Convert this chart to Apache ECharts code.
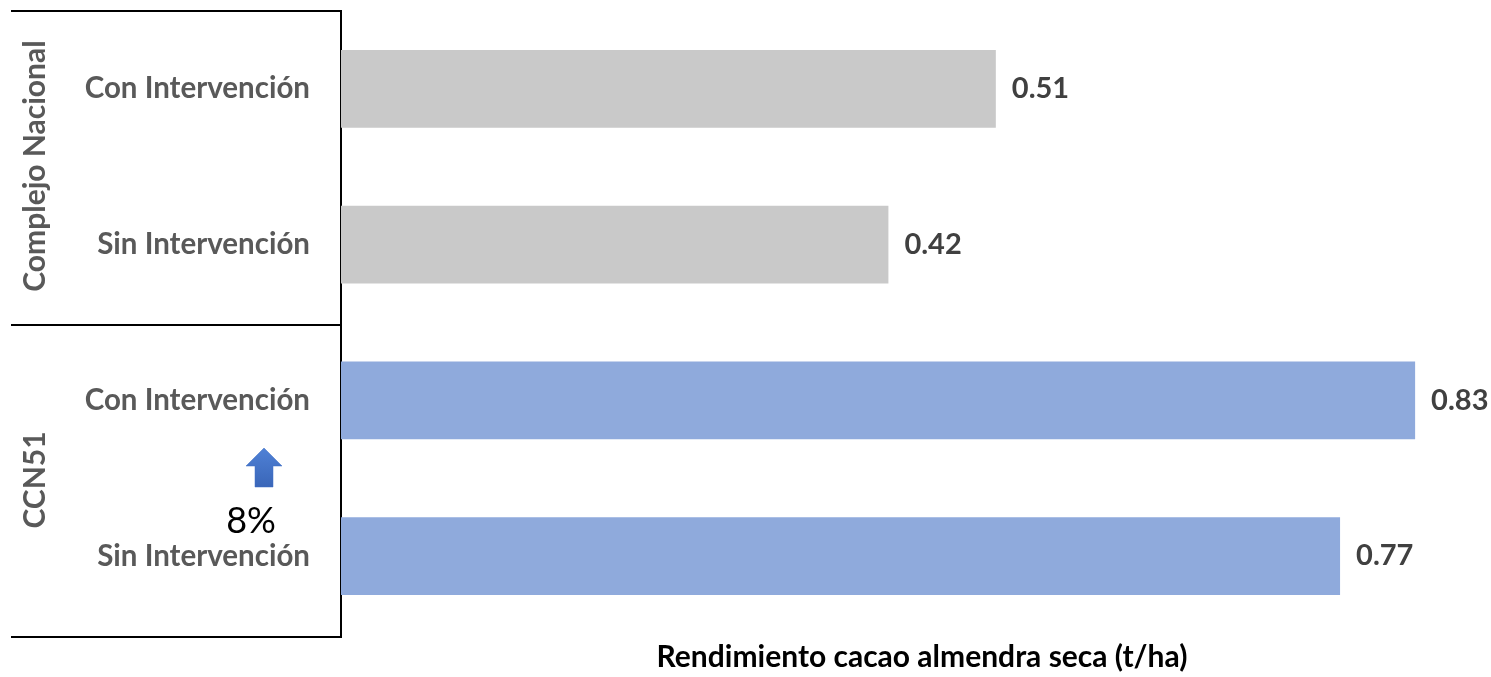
<!DOCTYPE html>
<html><head><meta charset="utf-8">
<script src="https://cdn.jsdelivr.net/npm/echarts@6/dist/echarts.min.js"></script>
<style>html,body{margin:0;padding:0;background:#fff}#c{width:1491px;height:677px}</style>
</head><body><div id="c"></div>
<script>
const categoryIds = ["CN-Con", "CN-Sin", "CCN51-Con", "CCN51-Sin"];
const tickLabels = ["Con Intervención", "Sin Intervención", "Con Intervención", "Sin Intervención"];
const groupNames = ["Complejo Nacional", "CCN51"];
const values = [0.506, 0.423, 0.83, 0.772];
const axisTitle = "Rendimiento cacao almendra seca (t/ha)";
const increaseText = "8%";

const FONT = "Lato, 'Open Sans', sans-serif";
const chart = echarts.init(document.getElementById('c'));
const grpColors = ['#c9c9c9', '#8faadc'];
chart.setOption({
  animation: false,
  grid: { left: 341, right: 50, top: 11, bottom: 40 },
  xAxis: {
    type: 'value', min: 0, max: 0.85,
    axisLine: { show: false }, axisTick: { show: false }, axisLabel: { show: false }, splitLine: { show: false },
    name: axisTitle, nameLocation: 'middle', nameGap: 8,
    nameTextStyle: { fontFamily: FONT, fontWeight: 'bold', fontSize: 30, color: '#000', verticalAlign: 'top', padding: [0, 0, 0, 62] }
  },
  yAxis: {
    type: 'category', inverse: true, data: categoryIds,
    axisLine: { show: false }, axisTick: { show: false },
    axisLabel: { margin: 31, fontFamily: FONT, fontWeight: 'bold', fontSize: 29.5, color: '#595959',
      formatter: (v, i) => tickLabels[i] }
  },
  series: [{
    type: 'bar', barWidth: '50%',
    data: values,
    itemStyle: { color: p => grpColors[p.dataIndex < 2 ? 0 : 1] },
    label: { show: true, position: 'right', distance: 16, fontFamily: FONT, fontWeight: 'bold', fontSize: 29, color: '#404040',
      formatter: p => p.value.toFixed(2) }
  }],
  graphic: [
    { type: 'line', shape: { x1: 11, y1: 11, x2: 342, y2: 11 }, style: { stroke: '#000', lineWidth: 2 } },
    { type: 'line', shape: { x1: 11, y1: 325, x2: 342, y2: 325 }, style: { stroke: '#000', lineWidth: 2 } },
    { type: 'line', shape: { x1: 11, y1: 637, x2: 342, y2: 637 }, style: { stroke: '#000', lineWidth: 2 } },
    { type: 'line', shape: { x1: 341, y1: 10, x2: 341, y2: 638 }, style: { stroke: '#000', lineWidth: 2 } },
    { type: 'text', x: 35, y: 166, rotation: Math.PI / 2,
      style: { text: groupNames[0], font: "bold 30px " + FONT, fill: '#595959', textAlign: 'center', textVerticalAlign: 'middle' } },
    { type: 'text', x: 35, y: 480, rotation: Math.PI / 2,
      style: { text: groupNames[1], font: "bold 30px " + FONT, fill: '#595959', textAlign: 'center', textVerticalAlign: 'middle' } },
    { type: 'polygon', shape: { points: [[264, 448], [282, 466], [273, 466], [273, 487], [255, 487], [255, 466], [246, 466]] },
      style: { fill: new echarts.graphic.LinearGradient(0, 0, 0, 1, [{ offset: 0, color: '#4f81d6' }, { offset: 1, color: '#3a66b8' }]), stroke: '#3f6ec4', lineWidth: 0.5 } },
    { type: 'text', x: 251, y: 521,
      style: { text: increaseText, font: "36px " + FONT, fill: '#000', textAlign: 'center', textVerticalAlign: 'middle' } }
  ]
});
</script></body></html>
